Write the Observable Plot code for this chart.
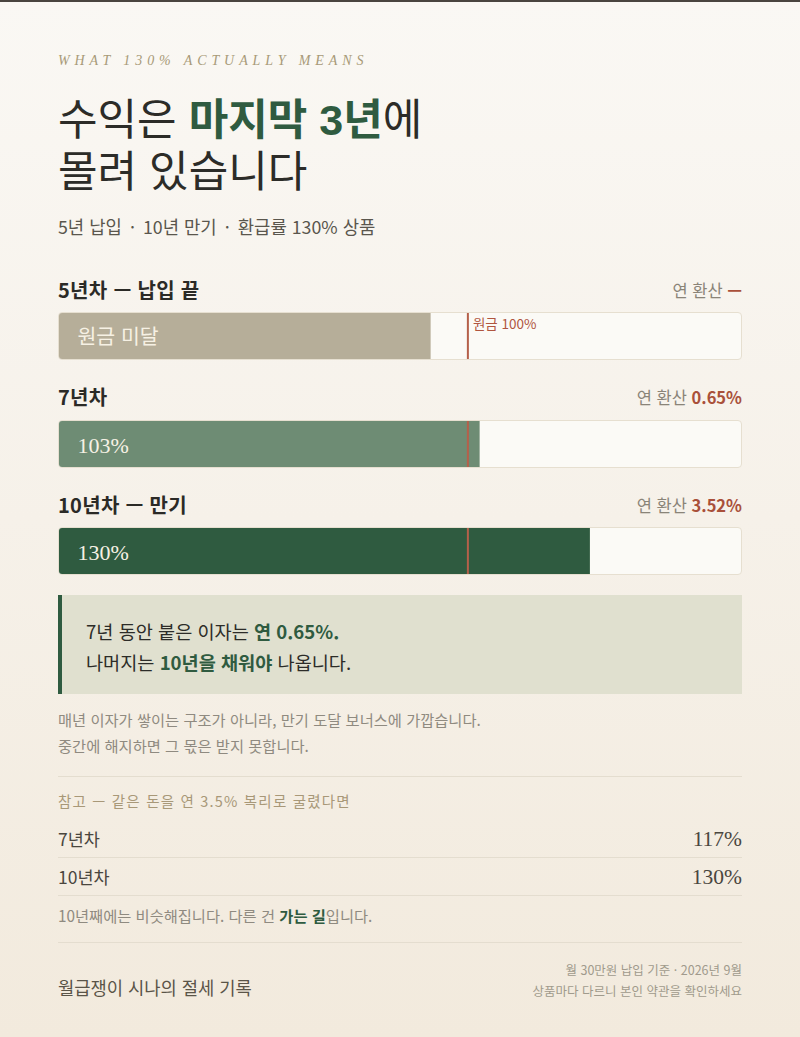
<!DOCTYPE html>
<html lang="ko">
<head>
<meta charset="utf-8">
<script src="https://cdn.jsdelivr.net/npm/d3@7"></script>
<script src="https://cdn.jsdelivr.net/npm/@observablehq/plot@0.6"></script>
<style>
  html, body { margin: 0; padding: 0; }
  body { width: 800px; height: 1037px; position: relative; overflow: hidden;
    background: linear-gradient(180deg, #faf8f4 0%, #f6f1e9 50%, #f2eadd 100%);
    font-family: "Noto Sans CJK KR", "Noto Sans", sans-serif; color: #2c2c28; }
  .topline { position: absolute; left: 0; top: 0; width: 800px; height: 2px; background: #4a4540; }
  .abs { position: absolute; left: 58px; width: 684px; white-space: nowrap; }
  .eyebrow { font-family: "Liberation Serif", serif; font-style: italic; font-size: 14px; letter-spacing: 4.9px; color: #a89a78; line-height: 20px; }
  .title { font-family: "Liberation Sans", "Noto Sans CJK KR", sans-serif; font-size: 43px; line-height: 48px; height: 48px; font-weight: 400; color: #2c2c28; letter-spacing: 0px; }
  .title b { color: #2f5b40; font-weight: 700; }
  .sub { font-size: 17.8px; line-height: 24px; color: #5a564d; }
  .sub i { font-style: normal; padding: 0 8px; }
  .hdr { font-size: 20px; line-height: 24px; font-weight: 700; color: #2b2a26; display: flex; justify-content: space-between; letter-spacing: 0.3px; }
  .hdr .rate { font-weight: 400; font-size: 16.5px; color: #8a8478; letter-spacing: 0; }
  .hdr .rate b { color: #a9503a; font-weight: 700; }
  .track { position: absolute; left: 58px; width: 682px; height: 46px; border: 1px solid #e6dfd0; border-radius: 4px; overflow: hidden; background: #fbfaf6; }
  .track svg { display: block; }
  .callout { position: absolute; left: 58px; top: 595px; width: 684px; height: 99px; background: #e0e0cf; box-sizing: border-box; border-left: 4px solid #2f5b40; padding: 20px 0 0 24px; font-size: 18.6px; line-height: 31px; color: #2c2c28; }
  .callout b { color: #2f5b40; font-weight: 700; }
  .note { font-size: 15.3px; line-height: 26px; color: #8f8a80; }
  .rule { position: absolute; left: 58px; width: 684px; height: 1px; background: #e4ddcf; }
  .ref { font-size: 14.5px; line-height: 20px; color: #a89878; letter-spacing: 1.2px; }
  .row { display: flex; justify-content: space-between; font-size: 17.5px; line-height: 26px; color: #4a463e; }
  .row .v { font-family: "Liberation Serif", serif; font-size: 21.5px; color: #4a463e; }
  .close b { color: #2f5b40; font-weight: 700; }
  .foot { font-size: 17.7px; line-height: 24px; color: #5a5448; }
  .footr { position: absolute; right: 58px; text-align: right; font-size: 12.5px; line-height: 21px; color: #a09a8c; white-space: nowrap; }
</style>
</head>
<body>
<div class="topline"></div>
<div id="root"></div>
<script>
// ---- data ----
const rowTitles = ["5년차 — 납입 끝", "7년차", "10년차 — 만기"];
const refundRates = [91, 103, 130];           // % of principal returned
const barLabels = ["원금 미달", "103%", "130%"];
const annualRates = ["—", "0.65%", "3.52%"];
const barColors = ["#b6ae99", "#6e8c74", "#2f5b40"];
const principal = 100;
const compareYears = ["7년차", "10년차"];
const compareValues = ["117%", "130%"];

// ---- layout ----
const root = document.getElementById("root");
function add(cls, top, html) {
  const d = document.createElement("div");
  d.className = cls;
  d.style.top = top + "px";
  d.innerHTML = html;
  root.appendChild(d);
  return d;
}

add("abs eyebrow", 51, "WHAT 130% ACTUALLY MEANS");
add("abs title", 96, "수익은 <b>마지막 3년</b>에");
add("abs title", 148, "몰려 있습니다");
add("abs sub", 214, "5년 납입<i>·</i>10년 만기<i>·</i>환급률 130% 상품");

const hdrTops = [278, 385, 493];
const trackTops = [312, 420, 527];

rowTitles.forEach((t, i) => {
  add("abs hdr", hdrTops[i], `<span>${t}</span><span class="rate">연 환산 <b>${annualRates[i]}</b></span>`);
  const tr = document.createElement("div");
  tr.className = "track";
  tr.style.top = trackTops[i] + "px";
  root.appendChild(tr);
  const isSerif = i > 0;
  const marks = [
    Plot.barX([refundRates[i]], { x: d => d, fill: barColors[i] }),
    Plot.ruleX([principal], { stroke: "#b5604a", strokeWidth: 2 }),
    Plot.text([barLabels[i]], {
      x: () => 0, text: d => d, textAnchor: "start", dx: 18, dy: 1,
      fill: "#f6f1e4", fontSize: isSerif ? 22 : 20.5,
      fontFamily: isSerif ? "Liberation Serif, serif" : "Noto Sans CJK KR, sans-serif"
    })
  ];
  if (i === 0) {
    marks.push(Plot.text(["원금 " + principal + "%"], {
      x: () => principal, text: d => d, frameAnchor: "top", textAnchor: "start", lineAnchor: "top",
      dx: 5, dy: 6, fill: "#b0553f", fontSize: 13.5, fontFamily: "Noto Sans CJK KR, sans-serif"
    }));
  }
  const chart = Plot.plot({
    width: 682, height: 46,
    margin: 0,
    x: { domain: [0, 167], range: [0, 682], axis: null },
    style: { background: "transparent", overflow: "visible" },
    marks
  });
  tr.appendChild(chart);
});

const co = document.createElement("div");
co.className = "callout";
co.innerHTML = "7년 동안 붙은 이자는 <b>연 0.65%.</b><br>나머지는 <b>10년을 채워야</b> 나옵니다.";
root.appendChild(co);

add("abs note", 706, "매년 이자가 쌓이는 구조가 아니라, 만기 도달 보너스에 가깝습니다.<br>중간에 해지하면 그 몫은 받지 못합니다.");
add("rule", 776, "");
add("abs ref", 791, "참고 — 같은 돈을 연 3.5% 복리로 굴렸다면");
const rowCenters = [839, 877];
compareYears.forEach((y, i) => {
  add("abs row", rowCenters[i] - 13, `<span>${y}</span><span class="v">${compareValues[i]}</span>`);
  add("rule", rowCenters[i] + 18, "");
});
add("abs note close", 902, "10년째에는 비슷해집니다. 다른 건 <b>가는 길</b>입니다.");
add("rule", 942, "");
add("abs foot", 975, "월급쟁이 시나의 절세 기록");
const fr = document.createElement("div");
fr.className = "footr";
fr.style.top = "959px";
fr.innerHTML = "월 30만원 납입 기준 · 2026년 9월<br>상품마다 다르니 본인 약관을 확인하세요";
root.appendChild(fr);
</script>
</body>
</html>
